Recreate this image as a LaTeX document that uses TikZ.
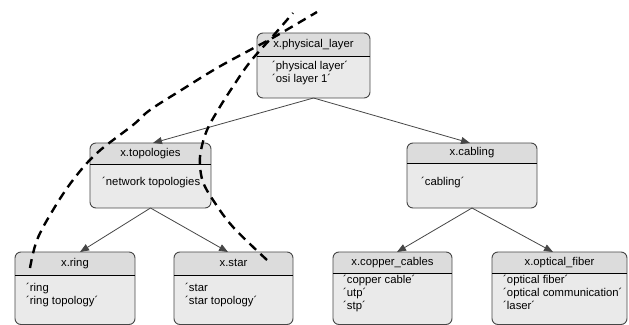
\documentclass[tikz,border=0pt]{standalone}
\usepackage{fontspec}
\setmainfont{Liberation Sans}
\usetikzlibrary{fit,arrows.meta}
\definecolor{headcol}{RGB}{220,220,220}
\definecolor{bodycol}{RGB}{234,234,234}
\definecolor{edgecol}{RGB}{70,70,70}
\tikzset{
  boxline/.style={draw=edgecol, line width=0.9pt},
  divline/.style={draw=black, line width=0.9pt},
  titletxt/.style={font=\fontsize{11.3}{13}\selectfont, inner sep=0pt, text height=8pt, text depth=2.5pt},
  bodytxt/.style={font=\fontsize{11.3}{13}\selectfont, inner sep=0pt, anchor=west, text height=8pt, text depth=2.5pt},
  arr/.style={draw=edgecol, line width=0.8pt, -{Triangle[length=9pt,width=7pt]}},
  dashcurve/.style={draw=black, line width=2.4pt, dash pattern=on 9pt off 6pt}
}
\newcommand\umlbox[7]{%
  \node[fit={(#2,#3)(#4,#5)}, inner sep=0pt, outer sep=0pt] (#1) {};
  \begin{scope}
    \clip[rounded corners=6pt] (#2,#3) rectangle (#4,#5);
    \fill[bodycol] (#2,#3) rectangle (#4,#5);
    \fill[headcol] (#2,#3) rectangle (#4,#6);
  \end{scope}
  \draw[boxline, rounded corners=6pt] (#2,#3) rectangle (#4,#5);
  \draw[divline] (#2,#6) -- (#4,#6);
  \node[titletxt] (#1-t) at ({(#2+#4)/2},{(#3+#6)/2}) {#7};
}
\newcommand\bodylines[4]{%
  \foreach \t [count=\i] in {#4} {
    \node[bodytxt] (#1-l\i) at (#2,{#3+13*(\i-1)}) {\t};
  }
}
\begin{document}
\begin{tikzpicture}[x=1pt,y=-1pt]
\useasboundingbox (0,0) rectangle (629,324);
\fill[white] (0,0) rectangle (629,324);

\umlbox{phys}{257}{33}{370}{98}{56}{x.physical\_layer}
\bodylines{phys}{272}{67}{´physical layer´,´osi layer 1´}

\umlbox{topo}{90}{143}{211}{208}{164}{x.topologies}
\bodylines{topo}{102}{183}{´network topologies´}

\umlbox{cabl}{407}{143}{537}{208}{163}{x.cabling}
\bodylines{cabl}{421}{183}{´cabling´}

\umlbox{ring}{15}{252}{135}{324.5}{275}{x.ring}
\bodylines{ring}{26}{289}{´ring,´ring topology´}

\umlbox{star}{174}{252}{293}{324.5}{275}{x.star}
\bodylines{star}{185}{289}{´star,´star topology´}

\umlbox{copp}{333}{252}{452}{324.5}{273}{x.copper\_cables}
\bodylines{copp}{343}{281}{´copper cable´,´utp´,´stp´}

\umlbox{opti}{492}{252}{627}{324.5}{273}{x.optical\_fiber}
\bodylines{opti}{503}{281}{´optical fiber´,´optical communication´,´laser´}

\draw[arr] (phys.south) -- ([xshift=2.5pt]topo.north);
\draw[arr] (phys.south) -- ([xshift=-2pt]cabl.north);
\draw[arr] (topo.south) -- ([xshift=5pt]ring.north);
\draw[arr] (topo.south) -- ([xshift=-5.5pt]star.north);
\draw[arr] (cabl.south) -- ([xshift=4.5pt]copp.north);
\draw[arr] (cabl.south) -- ([xshift=-6.5pt]opti.north);

\coordinate (a0) at (317,12);
\coordinate (a1) at (30,268);
\coordinate (b0) at (293,13);
\coordinate (b1) at (267,260);
\draw[dashcurve] plot[smooth, tension=0.6] coordinates {(a1) (37,240) (53,210) (73,180) (97,153) (133,125) (150,110) (183,89) (217,68) (250,50) (276,36) (a0)};
\draw[dashcurve] plot[smooth, tension=0.6] coordinates {(b1) (233,227) (213,200) (203,182) (200,165) (201,150) (207,130) (218,110) (232,88) (250,62) (273,36) (b0)};
\end{tikzpicture}
\end{document}
